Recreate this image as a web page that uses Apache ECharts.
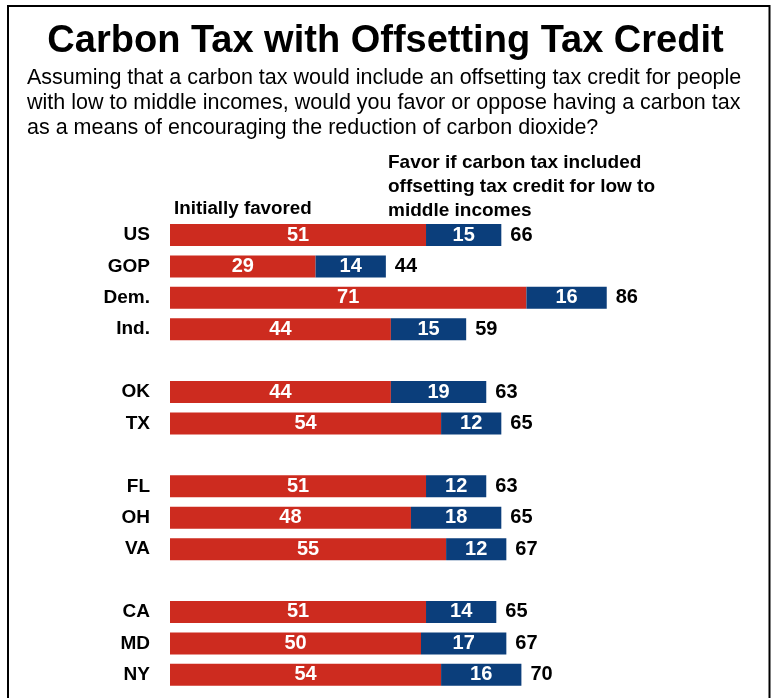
<!DOCTYPE html>
<html><head><meta charset="utf-8">
<script src="https://cdn.jsdelivr.net/npm/echarts@6/dist/echarts.min.js"></script>
<style>html,body{margin:0;padding:0;background:#fff}#c{width:771px;height:698px}</style>
</head><body><div id="c"></div>
<script>
var categories = ['US','GOP','Dem.','Ind.','','OK','TX','','FL','OH','VA','','CA','MD','NY'];
var initiallyFavored = [51,29,71,44,'-',44,54,'-',51,48,55,'-',51,50,54];
var withCredit = [15,14,16,15,'-',19,12,'-',12,18,12,'-',14,17,16];
var totals = [66,44,86,59,'-',63,65,'-',63,65,67,'-',65,67,70];
var titleText = 'Carbon Tax with Offsetting Tax Credit';
var subtitleText = 'Assuming that a carbon tax would include an offsetting tax credit for people\nwith low to middle incomes, would you favor or oppose having a carbon tax\nas a means of encouraging the reduction of carbon dioxide?';
var label1 = 'Initially favored';
var label2 = 'Favor if carbon tax included\noffsetting tax credit for low to\nmiddle incomes';

var FONT = '"Liberation Sans", Arial, sans-serif';
var RED = '#cd2b1f', BLUE = '#0b3e7b';
var chart = echarts.init(document.getElementById('c'), null, {renderer:'canvas'});
var zeroData = totals.map(function(t){ return t === '-' ? '-' : 0; });
chart.setOption({
  animation:false,
  backgroundColor:'#fff',
  title:[
    {text:titleText,left:'center',top:18,textStyle:{fontFamily:FONT,fontWeight:'bold',fontSize:38,color:'#000'}},
    {text:subtitleText,left:22,top:61,textStyle:{fontFamily:FONT,fontWeight:'normal',fontSize:21.5,lineHeight:25,color:'#000'}}
  ],
  graphic:[
    {type:'rect',shape:{x:8,y:6,width:761.5,height:760},style:{fill:'none',stroke:'#000',lineWidth:2},silent:true},
    {type:'text',left:174,top:199,style:{text:label1,font:'bold 18.8px '+FONT,fill:'#000'}},
    {type:'text',left:388,top:151,style:{text:label2,font:'bold 19px '+FONT,fill:'#000',lineHeight:24}}
  ],
  grid:{left:170,width:502,top:219.3,height:471.2,containLabel:false},
  xAxis:{type:'value',min:0,max:100,show:false},
  yAxis:{type:'category',data:categories,inverse:true,
    axisLine:{show:false},axisTick:{show:false},splitLine:{show:false},
    axisLabel:{margin:20,fontFamily:FONT,fontWeight:'bold',fontSize:19,color:'#000'}},
  series:[
    {type:'bar',stack:'s',data:initiallyFavored,barWidth:22,itemStyle:{color:RED},
      label:{show:true,position:'inside',color:'#fff',fontFamily:FONT,fontWeight:'bold',fontSize:20}},
    {type:'bar',stack:'s',data:withCredit,barWidth:22,itemStyle:{color:BLUE},
      label:{show:true,position:'inside',color:'#fff',fontFamily:FONT,fontWeight:'bold',fontSize:20}},
    {type:'bar',stack:'s',data:zeroData,barWidth:22,itemStyle:{color:'rgba(0,0,0,0)'},
      label:{show:true,position:'right',distance:9,color:'#000',fontFamily:FONT,fontWeight:'bold',fontSize:20,
        formatter:function(p){return totals[p.dataIndex];}}}
  ]
});
</script></body></html>
